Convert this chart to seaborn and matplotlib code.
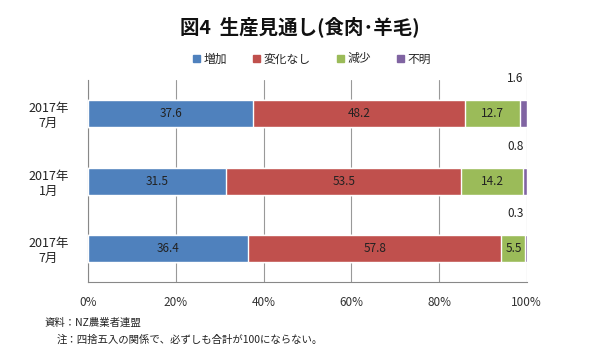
import numpy as np
import pandas as pd
import matplotlib
matplotlib.use("Agg")
import matplotlib.pyplot as plt
import seaborn as sns

# data
periods = ["2017年\n7月", "2017年\n1月", "2017年\n7月"]
series = ["増加", "変化なし", "減少", "不明"]
zouka = [37.6, 31.5, 36.4]
henka_nashi = [48.2, 53.5, 57.8]
genshou = [12.7, 14.2, 5.5]
fumei = [1.6, 0.8, 0.3]
xticks = [0, 20, 40, 60, 80, 100]

colors = ["#4F81BD", "#C0504D", "#9BBB59", "#8064A2"]

sns.set_theme(style="white")
plt.rcParams['font.family'] = ['Noto Sans CJK JP', 'DejaVu Sans']

vals = np.array([zouka, henka_nashi, genshou, fumei])
cum = vals.cumsum(axis=0)
keys = ["r%d" % i for i in range(len(periods))]

fig = plt.figure(figsize=(6, 3.64), dpi=100)
ax = fig.add_axes([0.147, 0.225, 0.731, 0.555])

# stacked bars: draw cumulative totals from the largest down
for i in range(len(series) - 1, -1, -1):
    df = pd.DataFrame({"key": keys, "val": np.minimum(cum[i], 100)})
    sns.barplot(data=df, x="val", y="key", orient="h", color=colors[i],
                width=0.4, saturation=1, ax=ax, zorder=3)

ax.set_xlim(0, 100)
ax.set_ylim(2.5, -0.5)
ax.set_xticks(xticks)
ax.set_xticklabels(["%d%%" % t for t in xticks], fontsize=8.5, color="#333333")
ax.set_yticks(range(len(periods)))
ax.set_yticklabels(periods, fontsize=9, multialignment="center", color="#222222")
ax.set_yticks([-0.5, 0.5, 1.5, 2.5], minor=True)
ax.tick_params(axis="y", which="major", length=0, pad=14)
ax.tick_params(axis="y", which="minor", length=4, color="#888888", direction="out")
ax.tick_params(axis="x", length=4, color="#888888", direction="out", pad=6)
ax.set_xlabel("")
ax.set_ylabel("")
ax.xaxis.grid(True, color="#999999", linewidth=0.8, zorder=0)
for s in ["top", "right"]:
    ax.spines[s].set_visible(False)
for s in ["left", "bottom"]:
    ax.spines[s].set_color("#888888")
    ax.spines[s].set_linewidth(0.8)

# value labels
for j in range(len(periods)):
    for i in range(3):
        ax.text(cum[i, j] - vals[i, j] / 2, j, "%.1f" % vals[i, j],
                ha="center", va="center", fontsize=8.5, color="#222222", zorder=4)
    ax.text(99.2, j - 0.42, "%.1f" % vals[3, j], ha="right", va="bottom",
            fontsize=8.5, color="#222222")

handles = [plt.Rectangle((0, 0), 1, 1, color=c) for c in colors]
fig.legend(handles, series, loc="center", bbox_to_anchor=(0.52, 0.838), ncol=4,
           frameon=False, fontsize=8.5, handlelength=0.6, handleheight=0.6,
           handletextpad=0.3, columnspacing=2.2)

fig.text(0.5, 1 - 27 / 364, "図4  生産見通し(食肉･羊毛)", ha="center", va="center",
         fontsize=14, fontweight="bold", color="#111111")
fig.text(45 / 600, 1 - 323 / 364, "資料：NZ農業者連盟", ha="left", va="center",
         fontsize=7.5, color="#222222")
fig.text(57 / 600, 1 - 340 / 364, "注：四捨五入の関係で、必ずしも合計が100にならない。",
         ha="left", va="center", fontsize=7.5, color="#222222")

fig.savefig("out.png", dpi=100, facecolor="white")
